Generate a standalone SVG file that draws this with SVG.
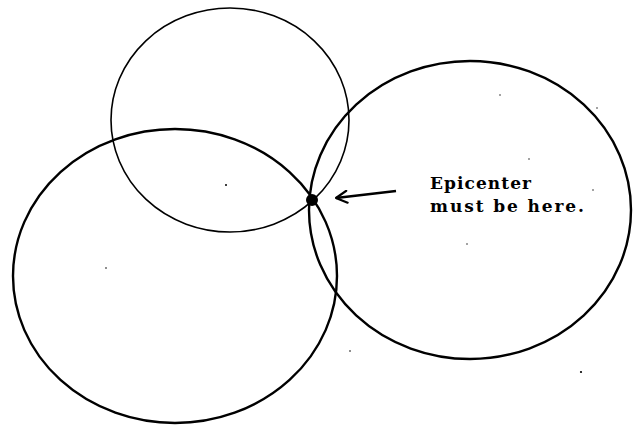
<svg xmlns="http://www.w3.org/2000/svg" width="633" height="425" viewBox="0 0 633 425">
<style>
.c{fill:none;stroke:#000}
.t{font-family:"DejaVu Serif","Liberation Serif",serif;font-weight:bold;font-size:17px;fill:#000}
.s{fill:#000}
</style>
<defs>
<marker id="ah" viewBox="0 0 14 14" refX="13" refY="7" markerWidth="14" markerHeight="14" markerUnits="userSpaceOnUse" orient="auto">
<path d="M2,1 L13,7 L2,13" fill="none" stroke="#000" stroke-width="2.2" stroke-linecap="round" stroke-linejoin="round"/>
</marker>
</defs>
<rect width="633" height="425" fill="#fff"/>
<g id="circle-top"><ellipse class="c" cx="230" cy="120" rx="119" ry="112" stroke-width="1.6"/></g>
<g id="circle-left"><ellipse class="c" cx="175" cy="276" rx="162" ry="147" stroke-width="2.4"/></g>
<g id="circle-right"><ellipse class="c" cx="470" cy="210" rx="161" ry="149" stroke-width="2.4"/></g>
<g id="epicenter"><circle class="s" cx="312" cy="200" r="6"/></g>
<g id="connectors"><line x1="396" y1="191" x2="336" y2="198" stroke="#000" stroke-width="2.4" marker-end="url(#ah)"/></g>
<g id="label">
<text class="t" x="430" y="189" textLength="101">Epicenter</text>
<text class="t" x="430" y="212" textLength="154">must be here.</text>
</g>
<g id="specks">
<circle class="s" cx="226" cy="185" r="1"/>
<circle class="s" cx="106" cy="268" r="0.8"/>
<circle class="s" cx="500" cy="95" r="0.7"/>
<circle class="s" cx="529" cy="159" r="0.7"/>
<circle class="s" cx="467" cy="244" r="0.7"/>
<circle class="s" cx="350" cy="351" r="0.8"/>
<circle class="s" cx="581" cy="372" r="1.1"/>
<circle class="s" cx="597" cy="108" r="0.7"/>
<circle class="s" cx="593" cy="190" r="0.7"/>
</g>
</svg>
